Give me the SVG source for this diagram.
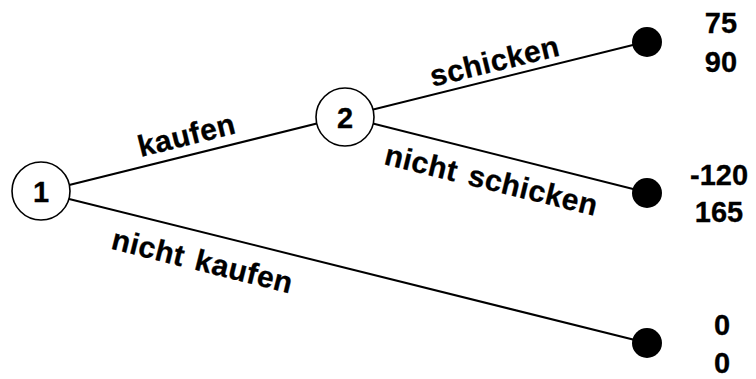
<svg xmlns="http://www.w3.org/2000/svg" width="756" height="379" viewBox="0 0 756 379">
  <style>
    text { font-family: "Liberation Sans", Arial, sans-serif; font-weight: bold; font-size: 29px; fill: #000; stroke: #000; stroke-width: 0.3; }
    .mid { text-anchor: middle; }
    .lbl { font-size: 30px; letter-spacing: 0.5px; word-spacing: 3px; }
    .edge { stroke: #000; stroke-width: 2; fill: none; }
    .dec { fill: #fff; stroke: #000; stroke-width: 1.6; }
    .leaf { fill: #000; }
  </style>
  <rect width="756" height="379" fill="#fff"/>

  <!-- branches of the tree -->
  <g id="connectors">
    <line class="edge" x1="41" y1="192" x2="345" y2="116.5"/>
    <line class="edge" x1="41" y1="192" x2="647" y2="343"/>
    <line class="edge" x1="345" y1="116.5" x2="647" y2="41.5"/>
    <line class="edge" x1="345" y1="116.5" x2="647" y2="192.5"/>
    <text class="mid lbl" transform="translate(189,145) rotate(-14)">kaufen</text>
    <text class="mid lbl" transform="translate(200,271) rotate(14)">nicht kaufen</text>
    <text class="mid lbl" transform="translate(497,71) rotate(-13.8)">schicken</text>
    <text class="mid lbl" transform="translate(489,190) rotate(13.8)">nicht schicken</text>
  </g>

  <!-- decision nodes -->
  <g id="node1">
    <circle class="dec" cx="41" cy="191" r="29"/>
    <text class="mid" x="41" y="201.5">1</text>
  </g>
  <g id="node2">
    <circle class="dec" cx="345" cy="117" r="29"/>
    <text class="mid" x="345" y="127.5">2</text>
  </g>

  <!-- terminal nodes with payoffs -->
  <g id="leaf1">
    <circle class="leaf" cx="647" cy="42" r="15"/>
    <text class="mid" x="721" y="33">75</text>
    <text class="mid" x="721" y="72">90</text>
  </g>
  <g id="leaf2">
    <circle class="leaf" cx="647" cy="193" r="15"/>
    <text class="mid" x="719" y="185">-120</text>
    <text class="mid" x="719" y="222">165</text>
  </g>
  <g id="leaf3">
    <circle class="leaf" cx="647" cy="343" r="15"/>
    <text class="mid" x="722" y="335">0</text>
    <text class="mid" x="722" y="373">0</text>
  </g>
</svg>
